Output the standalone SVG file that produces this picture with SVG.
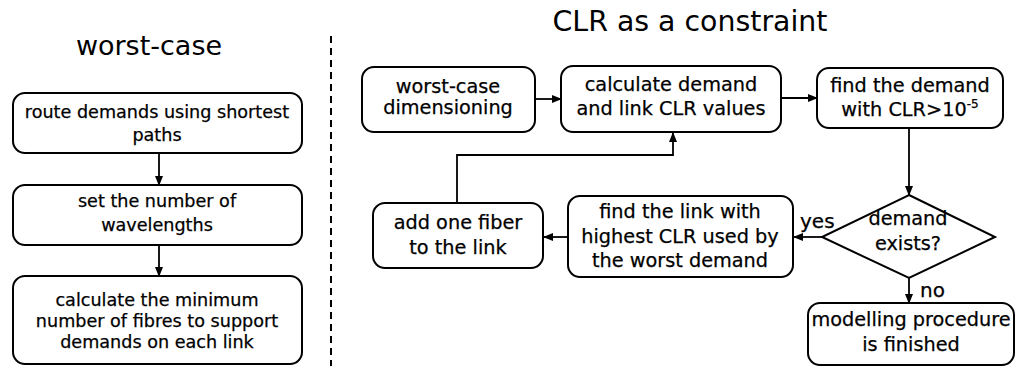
<svg xmlns="http://www.w3.org/2000/svg" width="1016" height="366" viewBox="0 0 1016 366">
<defs>
<marker id="ah" markerWidth="10" markerHeight="8" refX="9" refY="4" orient="auto" markerUnits="userSpaceOnUse">
<path d="M0,0 L10,4 L0,8 Z" fill="#000"/>
</marker>
<style>
.box{fill:#fff;stroke:#000;stroke-width:2}
.t{font-family:"DejaVu Sans",Verdana,sans-serif;fill:#000;stroke:#000;stroke-width:0.25;text-anchor:middle}
.s17{font-size:17.6px}
.s18{font-size:19.3px}
.lbl{font-size:20px;font-family:"DejaVu Sans",Verdana,sans-serif;fill:#000;stroke:#000;stroke-width:0.25}
.c{fill:none;stroke:#000;stroke-width:1.8;marker-end:url(#ah)}
</style>
</defs>
<rect width="1016" height="366" fill="#fff"/>
<text class="t" x="149" y="55" font-size="27" style="stroke-width:0">worst-case</text>
<text class="t" x="690" y="31" font-size="28.4" style="stroke-width:0">CLR as a constraint</text>
<line x1="331" y1="36" x2="331" y2="366" stroke="#000" stroke-width="2" stroke-dasharray="7,5"/>

<g id="connectors">
<path class="c" d="M159,153 V185"/>
<path class="c" d="M159,245 V276"/>
<path class="c" d="M535,99 H561"/>
<path class="c" d="M781,98 H817"/>
<path class="c" d="M909,128 V195"/>
<path class="c" d="M822,237 H794"/>
<path class="c" d="M568,237 H544"/>
<path class="c" d="M457,203 V155 H673 V133"/>
<path class="c" d="M909,278 V303"/>
<text class="lbl" x="800" y="228">yes</text>
<text class="lbl" x="920" y="297">no</text>
</g>

<g id="n1">
<rect class="box" x="13" y="93" width="289" height="60" rx="12"/>
<text class="t s17" x="157" y="118">route demands using shortest</text>
<text class="t s17" x="157" y="141">paths</text>
</g>
<g id="n2">
<rect class="box" x="13" y="185" width="289" height="60" rx="12"/>
<text class="t s17" x="157" y="207">set the number of</text>
<text class="t s17" x="157" y="231">wavelengths</text>
</g>
<g id="n3">
<rect class="box" x="13" y="276" width="289" height="88" rx="12"/>
<text class="t s17" x="157" y="306">calculate the minimum</text>
<text class="t s17" x="157" y="327">number of fibres to support</text>
<text class="t s17" x="157" y="348">demands on each link</text>
</g>

<g id="nA">
<rect class="box" x="362" y="67" width="173" height="65" rx="12"/>
<text class="t s18" x="448" y="93">worst-case</text>
<text class="t s18" x="448" y="114">dimensioning</text>
</g>
<g id="nB">
<rect class="box" x="561" y="66" width="220" height="66" rx="12"/>
<text class="t s18" x="671" y="91">calculate demand</text>
<text class="t s18" x="671" y="115">and link CLR  values</text>
</g>
<g id="nC">
<rect class="box" x="817" y="68" width="186" height="60" rx="12"/>
<text class="t s18" x="910" y="92">find the demand</text>
<text class="t s18" x="910" y="116">with CLR&gt;10<tspan font-size="12" dy="-8">-5</tspan></text>
</g>
<g id="nDiamond">
<path d="M909,195 L995,237 L909,278 L822,237 Z" fill="#fff" stroke="#000" stroke-width="2"/>
<text class="t s18" x="908" y="225">demand</text>
<text class="t s18" x="908" y="250">exists?</text>
</g>
<g id="nD">
<rect class="box" x="568" y="196" width="225" height="81" rx="12"/>
<text class="t s18" x="680" y="218">find the link with</text>
<text class="t s18" x="680" y="243">highest CLR used by</text>
<text class="t s18" x="680" y="267">the worst demand</text>
</g>
<g id="nE">
<rect class="box" x="373" y="203" width="170" height="65" rx="12"/>
<text class="t s18" x="458" y="229">add one fiber</text>
<text class="t s18" x="458" y="254">to the link</text>
</g>
<g id="nF">
<rect class="box" x="808" y="303" width="206" height="62" rx="12"/>
<text class="t s18" x="911" y="326">modelling procedure</text>
<text class="t s18" x="911" y="351">is finished</text>
</g>
</svg>
